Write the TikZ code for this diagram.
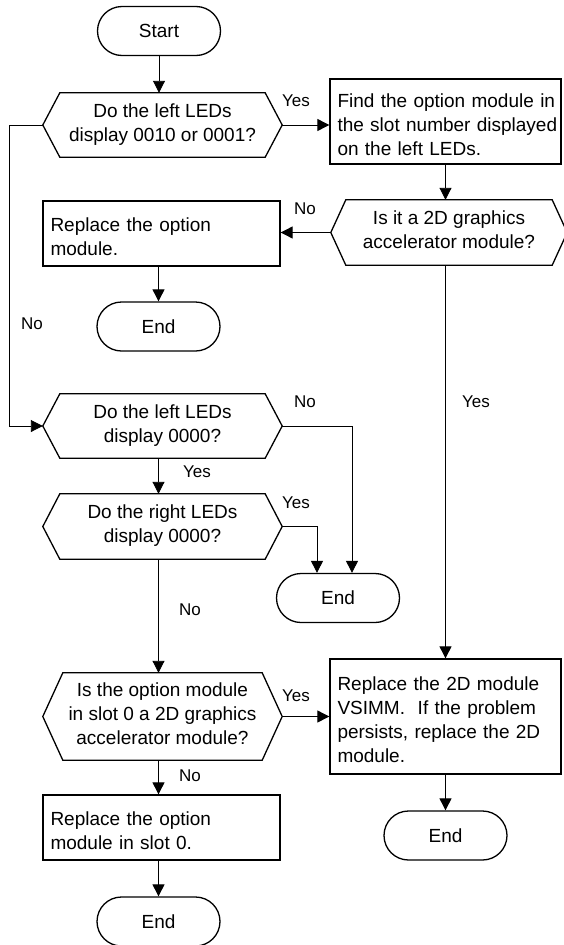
\documentclass[tikz,border=0pt]{standalone}
\usepackage{fontspec}
\setmainfont{Liberation Sans}
\usetikzlibrary{shapes.misc,arrows.meta,calc}
\newcommand\mytopstrut{\rule{0pt}{24.6pt}}
\newcommand\mybotstrut{\rule[-5pt]{0pt}{5pt}}
\begin{document}
\begin{tikzpicture}[x=1pt,y=-1pt,
  every node/.style={font=\fontsize{19}{24}\selectfont},
  term/.style={draw, line width=1.3pt, rounded rectangle, minimum width=123pt, minimum height=49pt, inner sep=0pt},
  proc/.style={draw, line width=1.3pt, rectangle, inner xsep=0pt, inner ysep=0pt, align=left,
    execute at begin node={\leftskip=7.5pt\relax\hyphenpenalty=10000\relax\mytopstrut},
    execute at end node=\mybotstrut},
  dec/.style={rectangle, inner sep=0pt, minimum width=239pt, align=center,
    execute at begin node=\mytopstrut, execute at end node=\mybotstrut},
  lbl/.style={font=\fontsize{17}{20}\selectfont, inner sep=0pt},
  conn/.style={line width=0.9pt},
  arr/.style={conn, -{Triangle[length=12pt,width=12pt]}},
  hex/.style={line width=1.3pt, line join=miter}
]
\useasboundingbox (0,0) rectangle (563,945);

% nodes
\node[term] (start) at (159,31) {Start};
\node[dec, minimum height=64pt] (d1) at (162.5,125) {Do the left LEDs\\display 0010 or 0001?};
\node[proc, text width=231pt, minimum height=85pt] (find) at (445.5,121.5) {Find the option module in\\the slot number displayed\\on the left LEDs.};
\node[dec, minimum width=236pt, minimum height=65pt] (d2) at (449,232.5) {Is it a 2D graphics\\accelerator module?};
\node[proc, text width=237pt, minimum height=65pt] (rep1) at (161.5,233.5) {Replace the option\\module.};
\node[term] (end1) at (158.5,326.5) {End};
\node[dec, minimum height=64pt] (d3) at (162.5,426) {Do the left LEDs\\display 0000?};
\node[dec, minimum height=65pt] (d4) at (162.5,526.5) {Do the right LEDs\\display 0000?};
\node[term] (end2) at (338,598) {End};
\node[dec, minimum height=87pt] (d5) at (162.5,716.5) {Is the option module\\in slot 0 a 2D graphics\\accelerator module?};
\node[proc, text width=231pt, minimum height=115pt] (rep2d) at (445.5,716.5) {Replace the 2D module\\VSIMM.\ \ If the problem\\persists, replace the 2D\\module.};
\node[proc, text width=237pt, minimum height=65pt] (slot0) at (161.5,827.5) {Replace the option\\module in slot 0.};
\node[term] (end3) at (445.5,835.5) {End};
\node[term] (end4) at (158.5,921.5) {End};

% decision outlines
\foreach \nn/\ins in {d1/17,d2/15,d3/17,d4/17,d5/20}
  \draw[hex] (\nn.west) -- ([xshift=\ins pt]\nn.north west) -- ([xshift=-\ins pt]\nn.north east)
    -- (\nn.east) -- ([xshift=-\ins pt]\nn.south east) -- ([xshift=\ins pt]\nn.south west) -- cycle;

% connectors
\draw[arr] (start.south) -- (start.south |- d1.north);
\draw[arr] (d1.east) -- (d1.east -| find.west);
\draw[arr] (d1.west) -- ++(-33.5,0) |- (d3.west);
\draw[arr] (find.south) -- (find.south |- d2.north);
\draw[arr] (d2.west) -- (d2.west -| rep1.east);
\draw[arr] (rep1.south -| end1) -- (end1.north);
\draw[arr] (d2.south -| rep2d) -- (rep2d.north);
\draw[arr] (d3.east) -| ([xshift=14pt]end2.north);
\draw[arr] (d3.south -| end1) -- (end1 |- d4.north);
\draw[arr] (d4.east) -| ([xshift=-21pt]end2.north);
\draw[arr] (d4.south -| end1) -- (end1 |- d5.north);
\draw[arr] (d5.east) -- (d5.east -| rep2d.west);
\draw[arr] (rep2d.south) -- (end3.north);
\draw[arr] (d5.south -| end1) -- (end1 |- slot0.north);
\draw[arr] (slot0.south -| end4) -- (end4.north);

% labels
\node[lbl] (l1) at (296,101) {Yes};
\node[lbl] (l2) at (32,324) {No};
\node[lbl] (l3) at (305,209) {No};
\node[lbl] (l4) at (476,402) {Yes};
\node[lbl] (l5) at (305,402) {No};
\node[lbl] (l6) at (197,472) {Yes};
\node[lbl] (l7) at (296,503) {Yes};
\node[lbl] (l8) at (190,610) {No};
\node[lbl] (l9) at (296,696) {Yes};
\node[lbl] (l10) at (190,776) {No};
\end{tikzpicture}
\end{document}
